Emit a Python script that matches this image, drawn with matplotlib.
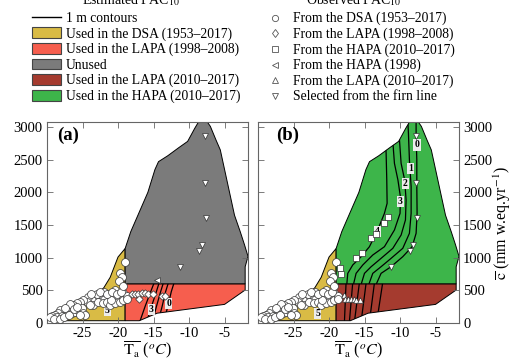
import numpy as np
import matplotlib
matplotlib.use('Agg')
import matplotlib.pyplot as plt
from matplotlib.patches import Polygon, Patch
from matplotlib.lines import Line2D

plt.rcParams['font.family'] = ['Liberation Serif', 'DejaVu Serif']
plt.rcParams['mathtext.fontset'] = 'stix'
plt.rcParams['axes.unicode_minus'] = False
plt.rcParams['font.size'] = 10

# ---- region outlines (T in degC, c in mm w.eq./yr) ----
dsa_T = [-30.0, -29.1, -27.2, -24.9, -22.8, -22.0, -21.1, -20.0, -19.0, -19.0, -29.3]
dsa_c = [95, 160, 250, 330, 455, 540, 700, 1010, 1140, 35, 35]

low_T = [-19.0, -17.0, -14.5, -5.0, -2.1, -2.1, -19.0]
low_c = [35, 35, 150, 285, 505, 600, 600]

high_T = [-19.0, -19.0, -18.2, -17.0, -15.8, -14.8, -14.3, -13.0, -11.5, -10.2, -9.2,
          -8.6, -7.7, -7.0, -6.2, -5.6, -5.1, -4.4, -3.6, -2.8, -2.2, -1.7, -2.1, -2.1]
high_c = [600, 1140, 1400, 1700, 2000, 2350, 2470, 2560, 2680, 2780, 2980,
          3090, 3120, 3010, 2800, 2650, 2400, 2050, 1650, 1400, 1200, 1020, 860, 600]

# ---- observed points ----
dsa_pts_T = [-19.01, -19.72, -19.48, -19.91, -20.42, -19.25, -19.01, -19.48, -19.95, -20.42,
             -20.89, -21.36, -21.83, -22.30, -22.77, -23.24, -23.71, -24.18, -24.41, -24.88,
             -25.35, -25.82, -26.29, -26.53, -27.0, -27.23, -27.70, -28.17, -28.40, -28.87,
             -29.34, -29.58, -28.64, -27.93, -27.23, -26.53, -26.06, -25.59, -25.12, -23.47,
             -22.77, -22.07, -21.60, -21.13, -20.42, -19.72, -19.25, -24.88, -24.65, -25.35,
             -18.8, -18.7, -23.0, -22.0, -21.0, -26.8, -27.5,
             -29.0, -28.2, -27.6, -26.9, -26.2, -25.8, -24.0, -23.8, -22.5, -21.5,
             -20.8, -20.2, -19.6, -19.3]
dsa_pts_c = [929, 760, 699, 648, 505, 454, 403, 403, 429, 378,
             429, 403, 429, 378, 429, 403, 352, 403, 327, 352,
             327, 301, 276, 224, 250, 199, 173, 199, 148, 122,
             107, 87, 87, 107, 122, 148, 173, 199, 224, 276,
             327, 301, 327, 276, 301, 327, 352, 148, 122, 122,
             420, 370, 450, 470, 350, 290, 230,
             60, 60, 95, 130, 210, 250, 280, 450, 480, 450,
             470, 440, 480, 560]

lapa98_T = [-18.07, -17.61, -17.14, -16.67, -16.2, -15.73, -15.02, -13.85, -13.38, -17.0]
lapa98_c = [440, 445, 440, 454, 454, 445, 440, 420, 410, 362]

hapa98_T = [-14.55]
hapa98_c = [658]

hapa10_T = [-18.4, -18.3, -16.2, -15.4, -14.1, -13.4, -12.2, -11.65]
hapa10_c = [840, 755, 990, 1075, 1300, 1360, 1535, 1630]

lapa10_T = [-17.85, -17.8, -17.35, -16.95, -16.55, -16.15, -15.7]
lapa10_c = [430, 370, 365, 365, 360, 355, 345]

firn_T = [-7.7, -7.75, -7.55, -8.2, -8.65, -11.27]
firn_c = [2870, 2145, 1600, 1200, 1100, 862]

# ---- 1 m contours ----
cont_a_c = [0, 250, 480, 620]
cont_a_T = [[-17.0, -16.2, -15.4, -14.9],
            [-16.0, -15.3, -14.6, -14.2],
            [-15.2, -14.6, -14.0, -13.6],
            [-14.4, -13.8, -13.3, -12.9],
            [-13.6, -13.0, -12.5, -12.1]]

cont_b_low_c = [20, 620]
cont_b_low_T = [[-17.83, -17.6], [-17.13, -16.66], [-16.42, -15.72],
                [-15.48, -14.77], [-14.31, -13.6], [-13.28, -12.44]]

cont_b_high = [
    ([-17.5, -17.36, -16.66, -15.48, -14.31, -13.14, -12.2, -11.82, -11.87, -11.96, -12.06],
     [590, 760, 888, 1015, 1168, 1424, 1679, 1832, 2189, 2597, 2801]),
    ([-16.56, -16.19, -15.25, -13.84, -12.2, -10.79, -10.0, -9.95, -10.3, -10.79, -10.93, -11.02],
     [590, 760, 888, 1041, 1168, 1424, 1679, 1934, 2189, 2444, 2648, 2801]),
    ([-15.48, -15.01, -14.07, -12.67, -11.02, -9.85, -9.24, -9.15, -9.35, -9.85, -10.08],
     [590, 760, 862, 990, 1143, 1347, 1577, 1883, 2189, 2444, 2801]),
    ([-14.40, -13.84, -12.67, -11.26, -9.62, -8.68, -8.44, -8.44, -8.68, -8.82, -8.91],
     [590, 760, 862, 990, 1143, 1373, 1679, 2087, 2495, 2903, 3107]),
    ([-13.37, -12.67, -11.26, -9.62, -8.30, -7.74, -7.60, -7.64, -7.64, -7.74, -7.74],
     [590, 760, 862, 1015, 1168, 1373, 1679, 2087, 2495, 2852, 3107]),
]

labels_a = [('5', -21.5, 199), ('3', -15.3, 209), ('0', -12.85, 301)]
labels_b = [('0', -7.6, 2725), ('1', -8.5, 2368), ('2', -9.25, 2138),
            ('3', -9.95, 1857), ('4', -13.2, 1398), ('5', -21.6, 148)]

C_DSA = '#d9bb45'
C_LAPA98 = '#f65e4e'
C_UNUSED = '#7b7b7b'
C_LAPA10 = '#a53b2f'
C_HAPA = '#3db54a'
SPINE = '#666666'


def draw_regions(ax, low_color, high_color):
    ax.add_patch(Polygon(np.column_stack([dsa_T, dsa_c]), closed=True,
                         fc=C_DSA, ec='black', lw=0.7, zorder=1))
    low = Polygon(np.column_stack([low_T, low_c]), closed=True,
                  fc=low_color, ec='black', lw=0.7, zorder=1)
    high = Polygon(np.column_stack([high_T, high_c]), closed=True,
                   fc=high_color, ec='black', lw=0.7, zorder=1)
    ax.add_patch(low)
    ax.add_patch(high)
    return low, high


def style_axes(ax, right=False):
    ax.set_xlim(-30.0, -1.7)
    ax.set_ylim(0, 3077)
    ax.set_xticks([-25, -20, -15, -10, -5])
    ax.set_yticks(np.arange(0, 3001, 500))
    ax.tick_params(direction='in', top=True, right=True, length=4, width=0.6,
                   color=SPINE, labelsize=10.5, pad=3,
                   labelleft=not right, labelright=right)
    for s in ax.spines.values():
        s.set_color(SPINE)
        s.set_linewidth(0.8)
    ax.set_xlabel(r'$\overline{\mathrm{T_a}}$ ($^oC$)', fontsize=11.5, labelpad=0)
    ylab = r'$\overline{\mathrm{c}}$ (mm w.eq.yr$^{-1}$)'
    if right:
        ax.yaxis.set_label_position('right')
        ax.set_ylabel(ylab, fontsize=11.5, rotation=90)
        ax.yaxis.set_label_coords(1.165, 0.5)
    else:
        ax.set_ylabel(ylab, fontsize=11.5)
        ax.yaxis.set_label_coords(-0.215, 0.5)


def contour_label(ax, txt, x, y):
    ax.text(x, y, txt, fontsize=7, fontweight='bold', ha='center', va='center',
            zorder=4, bbox=dict(boxstyle='square,pad=0.12', fc='#ececec', ec='none'))


def pts(ax, T, c, marker, s):
    ax.scatter(T, c, marker=marker, s=s, facecolor='white', edgecolor='#333333',
               linewidths=0.5, zorder=5)


fig = plt.figure(figsize=(5.13, 3.61), dpi=100)
ax_a = fig.add_axes([47 / 513, 38 / 361, 201 / 513, 201 / 361])
ax_b = fig.add_axes([258 / 513, 38 / 361, 201 / 513, 201 / 361])

# panel (a): estimated
low_a, high_a = draw_regions(ax_a, C_LAPA98, C_UNUSED)
for xs in cont_a_T:
    ln, = ax_a.plot(xs, cont_a_c, color='black', lw=0.9, zorder=2)
    ln.set_clip_path(low_a)
for t, x, y in labels_a:
    contour_label(ax_a, t, x, y)
pts(ax_a, dsa_pts_T, dsa_pts_c, 'o', 32)
pts(ax_a, lapa98_T, lapa98_c, 'D', 14)
pts(ax_a, hapa98_T, hapa98_c, '<', 18)
pts(ax_a, firn_T, firn_c, 'v', 18)
ax_a.text(0.05, 0.935, '(a)', transform=ax_a.transAxes, fontsize=13.5,
          fontweight='bold', ha='left', va='center')
style_axes(ax_a)

# panel (b): observed
low_b, high_b = draw_regions(ax_b, C_LAPA10, C_HAPA)
for xs in cont_b_low_T:
    ln, = ax_b.plot(xs, cont_b_low_c, color='black', lw=0.9, zorder=2)
    ln.set_clip_path(low_b)
for xs, ys in cont_b_high:
    ln, = ax_b.plot(xs, ys, color='black', lw=0.9, zorder=2)
    ln.set_clip_path(high_b)
for t, x, y in labels_b:
    contour_label(ax_b, t, x, y)
pts(ax_b, dsa_pts_T, dsa_pts_c, 'o', 32)
pts(ax_b, hapa10_T, hapa10_c, 's', 16)
pts(ax_b, lapa10_T, lapa10_c, '^', 16)
pts(ax_b, firn_T, firn_c, 'v', 18)
ax_b.text(0.09, 0.935, '(b)', transform=ax_b.transAxes, fontsize=13.5,
          fontweight='bold', ha='left', va='center')
style_axes(ax_b, right=True)

# legends
fig.text(131 / 513, 1 - 4 / 361, 'Estimated PAC$_{10}$', ha='center', va='baseline', fontsize=10)
fig.text(354 / 513, 1 - 4 / 361, 'Observed PAC$_{10}$', ha='center', va='baseline', fontsize=10)

left_handles = [Line2D([], [], color='black', lw=1.0),
                Patch(fc=C_DSA, ec='#444444', lw=0.8),
                Patch(fc=C_LAPA98, ec='#444444', lw=0.8),
                Patch(fc=C_UNUSED, ec='#444444', lw=0.8),
                Patch(fc=C_LAPA10, ec='#444444', lw=0.8),
                Patch(fc=C_HAPA, ec='#444444', lw=0.8)]
left_labels = ['1 m contours', 'Used in the DSA (1953–2017)', 'Used in the LAPA (1998–2008)',
               'Unused', 'Used in the LAPA (2010–2017)', 'Used in the HAPA (2010–2017)']
fig.legend(left_handles, left_labels, loc='upper left', bbox_to_anchor=(32 / 513, 1 - 12 / 361),
           frameon=False, borderpad=0, borderaxespad=0, handlelength=2.15, handleheight=0.85,
           handletextpad=0.35, labelspacing=0.16, fontsize=9.8)

mk = dict(ls='none', mfc='white', mec='#555555', mew=0.6, ms=4.5)
right_handles = [Line2D([], [], marker='o', **mk), Line2D([], [], marker='d', **mk),
                 Line2D([], [], marker='s', **mk), Line2D([], [], marker='<', **mk),
                 Line2D([], [], marker='^', **mk), Line2D([], [], marker='v', **mk)]
right_labels = ['From the DSA (1953–2017)', 'From the LAPA (1998–2008)',
                'From the HAPA (2010–2017)', 'From the HAPA (1998)',
                'From the LAPA (2010–2017)', 'Selected from the firn line']
fig.legend(right_handles, right_labels, loc='upper left', bbox_to_anchor=(268 / 513, 1 - 12 / 361),
           frameon=False, borderpad=0, borderaxespad=0, handlelength=1.0,
           handletextpad=0.85, labelspacing=0.16, fontsize=9.8)

fig.savefig('out.png', dpi=100)
